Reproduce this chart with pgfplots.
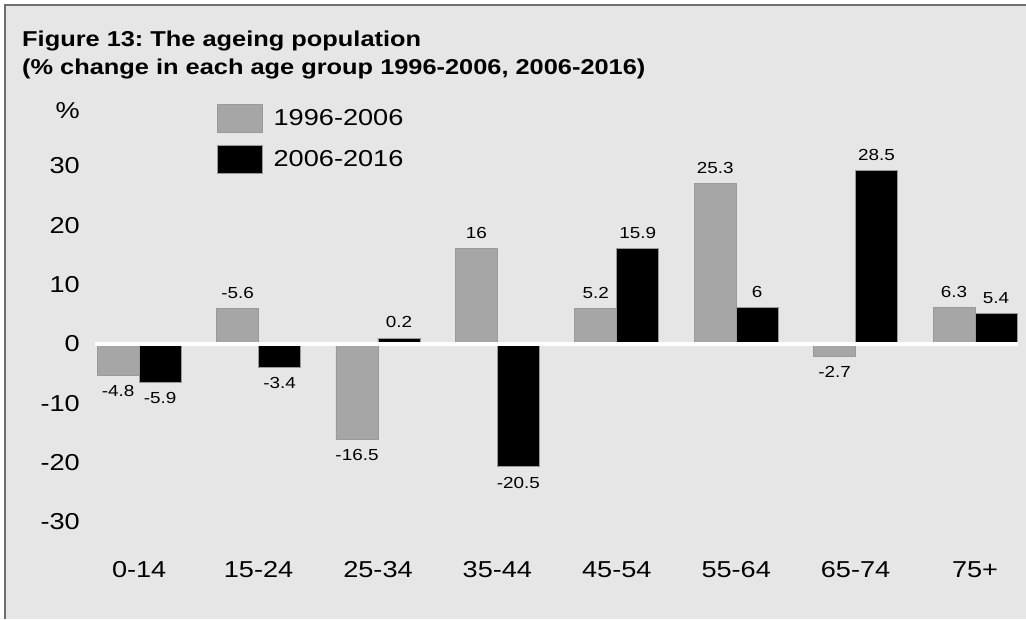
\documentclass[border=0pt]{standalone}
\usepackage{pgfplots}
\pgfplotsset{compat=1.18}
\usepackage{fontspec}
\setmainfont{Liberation Sans}[FakeStretch=1.18]
\definecolor{bg}{HTML}{E6E6E6}
\definecolor{bargrey}{HTML}{A6A6A6}
\definecolor{edge}{HTML}{9A9A9A}
\definecolor{frame}{HTML}{6E6E6E}
\frenchspacing
\begin{document}
\begin{tikzpicture}
\useasboundingbox (0,0) rectangle (1026pt,-619pt);
\fill[white] (0,0) rectangle (1026pt,-619pt);
\fill[bg] (5pt,-5pt) rectangle (1026pt,-619pt);
\draw[frame, line width=1.5pt] (5pt,-619pt) -- (5pt,-5pt) -- (1026pt,-5pt);
\node[anchor=base west, font=\bfseries\fontsize{21.5}{25}\selectfont, inner sep=0pt] at (22pt,-46.5pt) {Figure 13: The ageing population};
\node[anchor=base west, font=\bfseries\fontsize{21.5}{25}\selectfont, inner sep=0pt] at (22pt,-74.5pt) {(\% change in each age group 1996-2006, 2006-2016)};
\node[anchor=east, inner sep=0pt, font=\fontsize{23}{27}\selectfont] at (80pt,-111pt) {\%};
\begin{axis}[
  at={(95pt,-522pt)}, anchor=south west,
  scale only axis, width=923pt, height=356pt,
  xmin=-0.37, xmax=7.36, ymin=-30, ymax=30,
  ybar=0pt, bar width=42pt,
  axis line style={draw=none}, tick style={draw=none},
  major tick length=0pt,
  ytick={-30,-20,-10,0,10,20,30},
  yticklabels={-30,-20,-10,0,10,20,30},
  xtick={0,1,2,3,4,5,6,7},
  xticklabels={0-14,15-24,25-34,35-44,45-54,55-64,65-74,75+},
  tick label style={font=\fontsize{23}{27}\selectfont},
  yticklabel style={anchor=east, inner sep=0pt, xshift=-15pt},
  xticklabel style={anchor=center, inner sep=0pt, yshift=-48pt},
  point meta=explicit symbolic,
  visualization depends on={y \as \rawy},
  nodes near coords,
  nodes near coords style={font=\fontsize{16}{19}\selectfont, inner sep=0pt, outer sep=10pt, text=black},
  every node near coord/.append style={/utils/exec={\ifdim\rawy pt<0pt \gdef\myanc{north}\else\gdef\myanc{south}\fi}, anchor=\myanc},
  legend style={at={(axis description cs:0.1318,1.176)}, anchor=north west, draw=none, fill=none, inner sep=0pt, row sep=12.5pt, column sep=9pt, font=\fontsize{23}{27}\selectfont, cells={anchor=west}},
  legend image code/.code={\draw[#1] (0pt,-14pt) rectangle (45pt,14pt);},
  clip=false,
]
\addplot[fill=bargrey, draw=edge, line width=0.8pt] coordinates {
 (0,-5.3) [-4.8] (1,5.95) [-5.6] (2,-16.1) [-16.5] (3,16.1) [16]
 (4,5.95) [5.2] (5,27.0) [25.3] (6,-2.1) [-2.7] (7,6.2) [6.3]};
\addlegendentry{1996-2006}
\addplot[fill=black, draw=edge, line width=0.8pt] coordinates {
 (0,-6.4) [-5.9] (1,-3.9) [-3.4] (2,1.0) [0.2] (3,-20.7) [-20.5]
 (4,16.1) [15.9] (5,6.2) [6] (6,29.3) [28.5] (7,5.2) [5.4]};
\addlegendentry{2006-2016}
\draw[white, line width=3.2pt] (rel axis cs:0,0.5) -- (rel axis cs:1,0.5);
\end{axis}
\end{tikzpicture}
\end{document}
